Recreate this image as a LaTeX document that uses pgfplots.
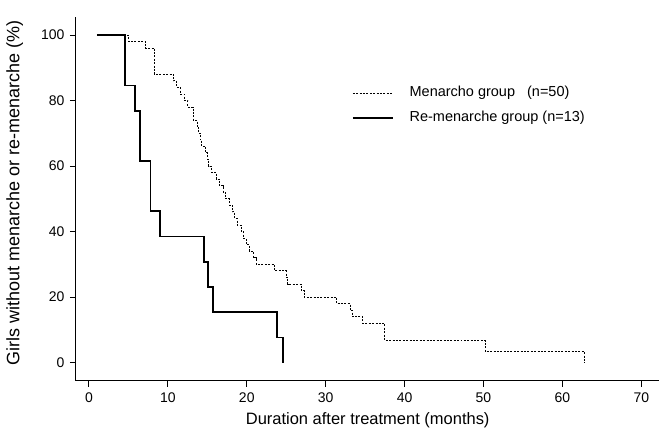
\documentclass[border=0pt]{standalone}
\usepackage{fontspec}
\setmainfont{Liberation Sans}
\usepackage{pgfplots}
\pgfplotsset{compat=1.18}

\begin{document}
\begin{tikzpicture}
\begin{axis}[
    scale only axis,
    width=584.2pt,
    height=364.1pt,
    xmin=-1.65, xmax=72.3,
    ymin=-5.5, ymax=105.5,
    axis x line*=bottom,
    axis y line*=left,
    axis line style={black, line width=1.1pt},
    tick align=outside,
    major tick length=6pt,
    tick style={black, line width=0.9pt},
    xtick={0,10,...,70},
    ytick={0,20,...,100},
    /pgf/number format/assume math mode=true,
    ticklabel style={font=\fontsize{14}{16}\selectfont},
    xticklabel style={yshift=-3pt},
    yticklabel style={xshift=-2pt},
    xlabel={Duration after treatment (months)},
    xlabel style={at={(axis description cs:0.5,0)}, anchor=center, yshift=-40pt,
        font=\fontsize{16.5}{18}\selectfont},
    ylabel={Girls without menarche or re-menarche (\%)},
    ylabel style={at={(axis description cs:-0.105,0.516)}, anchor=center, rotate=0,
        font=\fontsize{18}{20}\selectfont},
    legend image code/.code={\draw[#1] (0pt,0pt) -- (40pt,0pt);},
    legend style={at={(axis cs:33.3,78.5)}, anchor=west, draw=none, fill=none,
        inner sep=0pt, row sep=11pt, column sep=0pt,
        font=\fontsize{14.5}{16}\selectfont,
        nodes={inner sep=0pt, text height=11pt, text depth=3pt}},
    legend cell align=left,
]
% Menarcho group (n=50)
\addplot[const plot, black, line width=0.9pt, dash pattern=on 2pt off 1.4pt]
coordinates {
(1,100) (5.0,98) (7.2,96) (8.3,88) (10.7,86) (11.1,84) (11.6,82) (12.1,80)
(12.5,78) (13.2,74) (13.7,72) (13.9,70) (14.1,68) (14.3,66) (14.8,64) (15.0,62)
(15.2,60) (15.5,58) (16.1,56) (16.5,54) (17.0,52) (17.3,50) (17.8,48) (18.2,46)
(18.5,44) (18.8,42) (19.3,40) (19.6,38) (19.9,36) (20.3,34) (20.8,32) (21.2,30)
(23.5,28) (25.0,26) (25.2,24) (26.9,22) (27.3,20) (31.4,18) (33.1,16) (33.4,14)
(34.7,12) (37.5,6.8) (50.2,3.4) (62.8,0)
};
\addlegendentry{\hspace{16pt}Menarcho group\ \ \ (n=50)}
% Re-menarche group (n=13)
\addplot[const plot, black, line width=1.8pt]
coordinates {
(1,100) (4.6,84.6) (5.8,76.9) (6.5,61.5) (7.8,46.2) (9.0,38.5) (14.6,30.8)
(15.1,23.1) (15.7,15.4) (23.8,7.7) (24.6,0)
};
\addlegendentry{\hspace{16pt}Re-menarche group (n=13)}
\coordinate (bl) at (rel axis cs:0,0);
\coordinate (tr) at (rel axis cs:1,1);
\end{axis}
\path[use as bounding box] ([xshift=-76pt,yshift=-51pt]bl) rectangle ([yshift=17pt]tr);
\end{tikzpicture}
\end{document}
